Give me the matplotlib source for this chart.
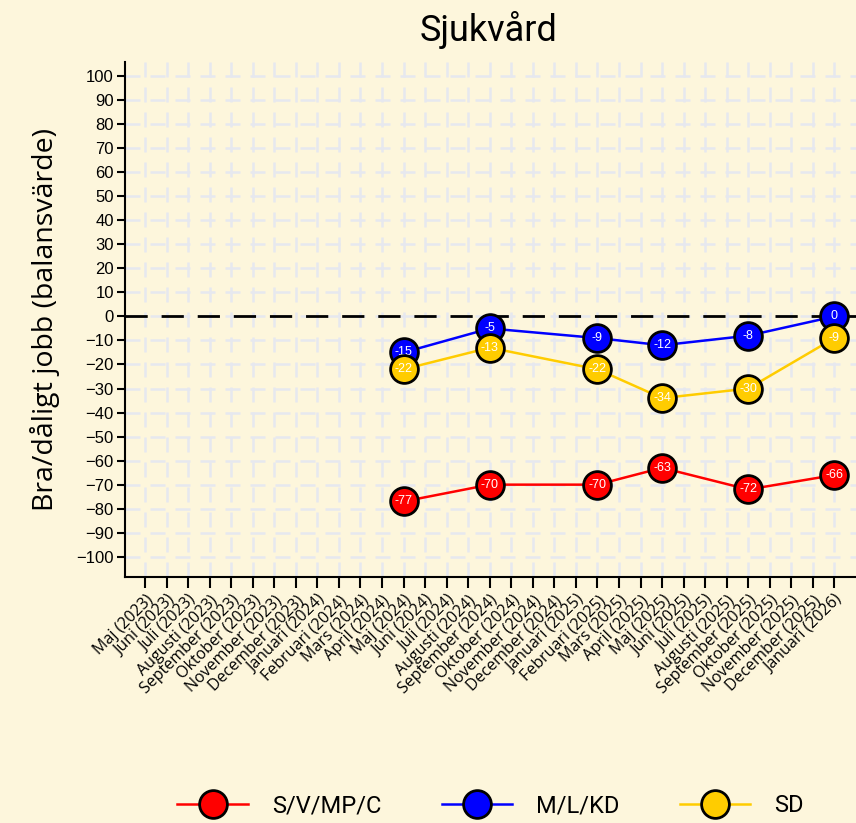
import matplotlib
matplotlib.use("Agg")
import matplotlib.pyplot as plt

plt.rcParams['font.family'] = ['Open Sans', 'DejaVu Sans']
narrow = ['Roboto', 'DejaVu Sans']
arialike = ['Liberation Sans', 'DejaVu Sans']

months = [
    "Maj (2023)", "Juni (2023)", "Juli (2023)", "Augusti (2023)", "September (2023)",
    "Oktober (2023)", "November (2023)", "December (2023)", "Januari (2024)",
    "Februari (2024)", "Mars (2024)", "April (2024)", "Maj (2024)", "Juni (2024)",
    "Juli (2024)", "Augusti (2024)", "September (2024)", "Oktober (2024)",
    "November (2024)", "December (2024)", "Januari (2025)", "Februari (2025)",
    "Mars (2025)", "April (2025)", "Maj (2025)", "Juni (2025)", "Juli (2025)",
    "Augusti (2025)", "September (2025)", "Oktober (2025)", "November (2025)",
    "December (2025)", "Januari (2026)",
]
survey_months = ["Maj (2024)", "September (2024)", "Februari (2025)",
                 "Maj (2025)", "September (2025)", "Januari (2026)"]

svmpc = [-77, -70, -70, -63, -72, -66]
mlkd = [-15, -5, -9, -12, -8, 0]
sd = [-22, -13, -22, -34, -30, -9]

series = [
    ("S/V/MP/C", svmpc, "#ff0000"),
    ("M/L/KD", mlkd, "#0000ff"),
    ("SD", sd, "#ffcc00"),
]

bg = "#fdf6dc"
fig = plt.figure(figsize=(8.56, 8.23), dpi=100, facecolor=bg)
ax = fig.add_axes([0.146, 0.299, 0.854, 0.626])
ax.set_facecolor(bg)

xpos = [months.index(m) for m in survey_months]

for i, (name, vals, col) in enumerate(series):
    z = 3 + i * 2
    ax.plot(xpos, vals, color=col, lw=1.8, marker="o", markersize=20,
            markerfacecolor=col, markeredgecolor="black", markeredgewidth=2,
            label=name, zorder=z)
    for x, v in zip(xpos, vals):
        ax.text(x, v, str(v), color="white", ha="center", va="center",
                fontsize=9, family=arialike, zorder=z + 1)

ax.axhline(0, color="black", lw=2, dashes=(8, 5), zorder=2)

ax.set_xlim(-0.93, 33.0)
ax.set_ylim(-108.4, 106)
ax.set_yticks(range(-100, 101, 10))
ax.set_xticks(range(len(months)))
ax.set_xticklabels(months, rotation=45, ha="right", rotation_mode="anchor",
                   fontsize=11.5)
for lab in ax.get_yticklabels():
    lab.set_family(arialike)
ax.tick_params(axis="y", labelsize=12, length=6, width=1.5, pad=2)
ax.tick_params(axis="x", length=8, width=1.5, pad=3)
ax.grid(True, color="#e6e8ef", lw=1.8, dashes=(6, 4))
ax.set_axisbelow(True)

for s in ["top", "right"]:
    ax.spines[s].set_visible(False)
for s in ["left", "bottom"]:
    ax.spines[s].set_linewidth(1.5)

ax.set_ylabel("Bra/dåligt jobb (balansvärde)", fontsize=20.5, labelpad=12)
fig.text(0.571, 0.964, "Sjukvård", ha="center", va="center", fontsize=26,
         family=narrow)

fig.legend(loc="center", bbox_to_anchor=(0.573, 0.021), ncol=3,
           frameon=False, prop={'family': narrow, 'size': 17},
           handlelength=3.0, columnspacing=2.55, markerscale=1.0,
           handletextpad=1.0)

fig.savefig("out.png", dpi=100, facecolor=bg)
